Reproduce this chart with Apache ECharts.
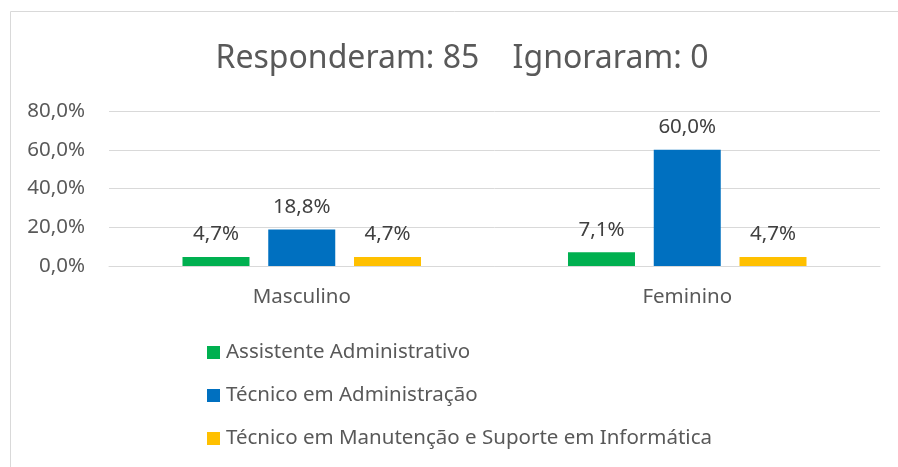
<!DOCTYPE html>
<html>
<head>
<meta charset="utf-8">
<script src="https://cdn.jsdelivr.net/npm/echarts@6/dist/echarts.min.js"></script>
<style>
  html, body { margin: 0; padding: 0; background: #fff; }
  #chart { width: 898px; height: 467px; }
</style>
</head>
<body>
<div id="chart"></div>
<script>
  const categories = ["Masculino", "Feminino"];
  const seriesNames = [
    "Assistente Administrativo",
    "Técnico em Administração",
    "Técnico em Manutenção e Suporte em Informática"
  ];
  const assistente = [4.7, 7.1];
  const tecnicoAdm = [18.8, 60.0];
  const tecnicoInfo = [4.7, 4.7];
  const yTicks = [0, 20, 40, 60, 80];

  const colors = ["#00b050", "#0070c0", "#ffc000"];
  const font = "'Noto Sans', 'Open Sans', sans-serif";
  const pct = (v) => v.toFixed(1).replace(".", ",") + "%";

  const chart = echarts.init(document.getElementById("chart"), null, { renderer: "canvas" });

  const makeSeries = (name, values, color) => ({
    name,
    type: "bar",
    data: values,
    barWidth: 67,
    barGap: "28%",
    itemStyle: { color },
    label: {
      show: true,
      position: "top",
      distance: 12,
      color: "#404040",
      fontFamily: font,
      fontSize: 20.5,
      formatter: (p) => pct(p.value)
    }
  });

  chart.setOption({
    animation: false,
    textStyle: { fontFamily: font },
    graphic: [{
      type: "rect",
      shape: { x: 10.5, y: 11.5, width: 900, height: 470 },
      style: { fill: "none", stroke: "#d9d9d9", lineWidth: 1 },
      silent: true
    }],
    title: {
      text: "Responderam: 85    Ignoraram: 0",
      left: 457,
      textAlign: "center",
      top: 38,
      textStyle: { color: "#595959", fontSize: 32, fontWeight: "normal", fontFamily: font }
    },
    legend: {
      orient: "vertical",
      left: 202,
      top: 337,
      itemWidth: 13,
      itemHeight: 13,
      itemGap: 22,
      icon: "rect",
      textStyle: { color: "#595959", fontSize: 20.5, fontFamily: font, padding: [0, 0, 0, 1] },
      data: seriesNames
    },
    grid: { left: 109, right: 18, top: 111, height: 155 },
    xAxis: {
      type: "category",
      data: categories,
      axisLine: { lineStyle: { color: "#d9d9d9" } },
      axisTick: { show: false },
      axisLabel: { color: "#595959", fontSize: 20.5, fontFamily: font, margin: 21 }
    },
    yAxis: {
      type: "value",
      min: yTicks[0],
      max: yTicks[yTicks.length - 1],
      interval: 20,
      axisLine: { show: false },
      axisTick: { show: false },
      splitLine: { lineStyle: { color: "#d9d9d9", width: 1 } },
      axisLabel: { color: "#595959", fontSize: 20.5, fontFamily: font, margin: 24, formatter: (v) => pct(v) }
    },
    series: [
      makeSeries(seriesNames[0], assistente, colors[0]),
      makeSeries(seriesNames[1], tecnicoAdm, colors[1]),
      makeSeries(seriesNames[2], tecnicoInfo, colors[2])
    ]
  });
</script>
</body>
</html>
